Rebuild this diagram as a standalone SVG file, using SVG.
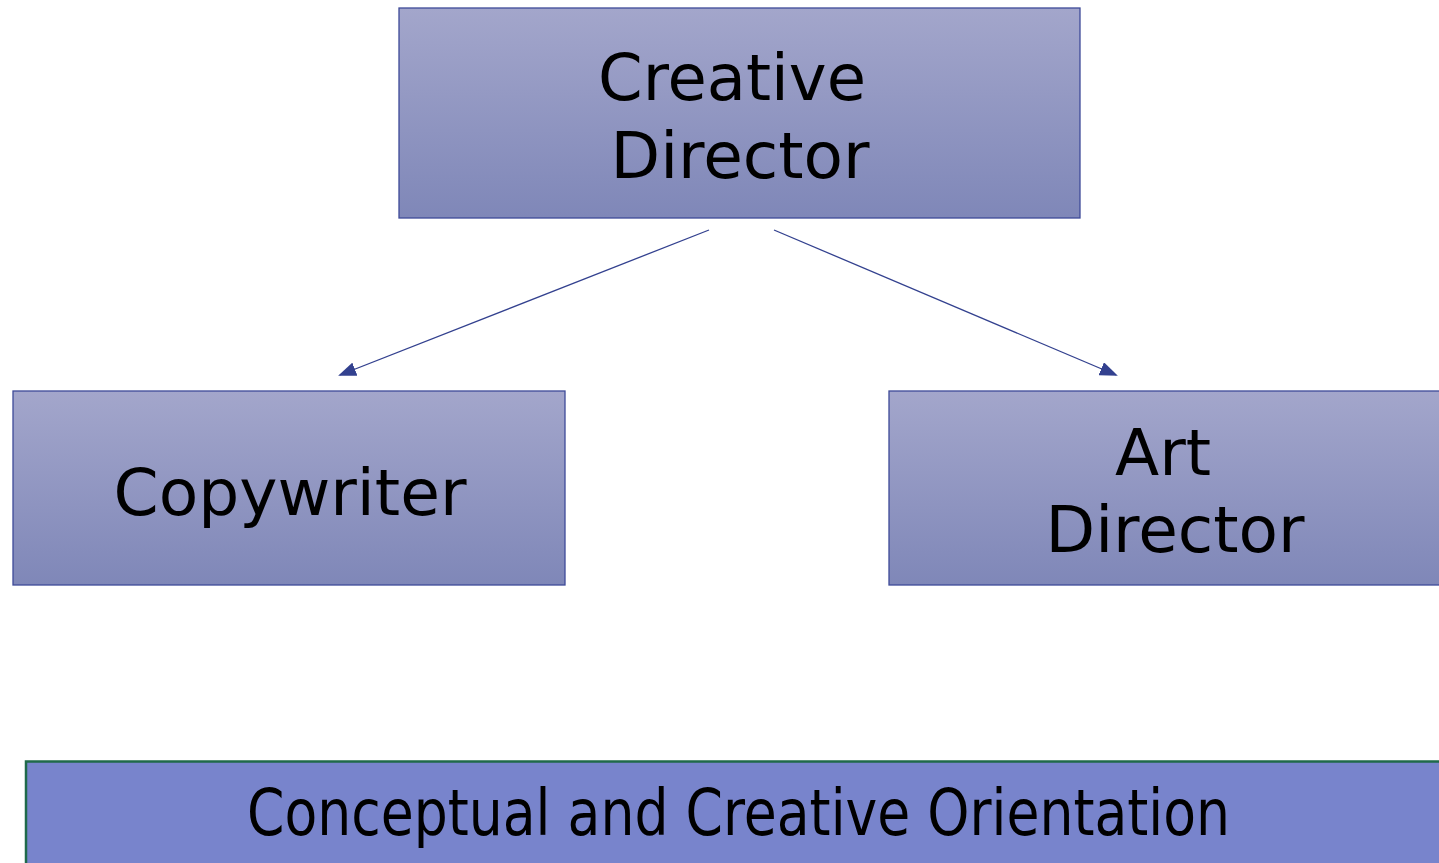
<svg xmlns="http://www.w3.org/2000/svg" width="1439" height="863" viewBox="0 0 1439 863">
<defs>
<linearGradient id="g" x1="0" y1="0" x2="0" y2="1">
<stop offset="0" stop-color="#A3A6CB"/>
<stop offset="1" stop-color="#7F87B8"/>
</linearGradient>
<marker id="ah" viewBox="0 0 10 10" refX="9" refY="5" markerWidth="6" markerHeight="6" markerUnits="userSpaceOnUse" orient="auto">
<path d="M0,0 L10,5 L0,10 z" fill="#33418F"/>
</marker>
<style>
.box{fill:url(#g);stroke:#3E4A98;stroke-width:1.3}
.t{font-family:"DejaVu Sans",Verdana,sans-serif;font-size:64px;fill:#000;text-anchor:middle}
.c{stroke:#33418F;stroke-width:1.3;fill:none}
</style>
<marker id="a" viewBox="0 0 18 14" refX="16" refY="7" markerWidth="18" markerHeight="14" markerUnits="userSpaceOnUse" orient="auto">
<path d="M0,0 L18,7 L0,14 z" fill="#33418F"/>
</marker>
</defs>
<rect width="1439" height="863" fill="#fff"/>
<g id="creative-director">
<rect class="box" x="399" y="8" width="681" height="210"/>
<text class="t" x="732" y="100" textLength="268" lengthAdjust="spacingAndGlyphs">Creative</text>
<text class="t" x="740" y="178" textLength="259" lengthAdjust="spacingAndGlyphs">Director</text>
</g>
<g id="copywriter">
<rect class="box" x="13" y="391" width="552" height="194"/>
<text class="t" x="290" y="515" textLength="353" lengthAdjust="spacingAndGlyphs">Copywriter</text>
</g>
<g id="art-director">
<rect class="box" x="889" y="391" width="560" height="194"/>
<text class="t" x="1163" y="475" textLength="96" lengthAdjust="spacingAndGlyphs">Art</text>
<text class="t" x="1175" y="552" textLength="259" lengthAdjust="spacingAndGlyphs">Director</text>
</g>
<g id="orientation">
<rect x="26" y="761.5" width="1420" height="110" fill="#7884CC" stroke="#1F6A4A" stroke-width="2.5"/>
<text class="t" x="738.5" y="835" font-size="52" textLength="983" lengthAdjust="spacingAndGlyphs">Conceptual and Creative Orientation</text>
</g>
<g id="connectors">
<line class="c" x1="709" y1="230" x2="340" y2="375" marker-end="url(#a)"/>
<line class="c" x1="774" y1="230" x2="1116" y2="375" marker-end="url(#a)"/>
</g>
</svg>
